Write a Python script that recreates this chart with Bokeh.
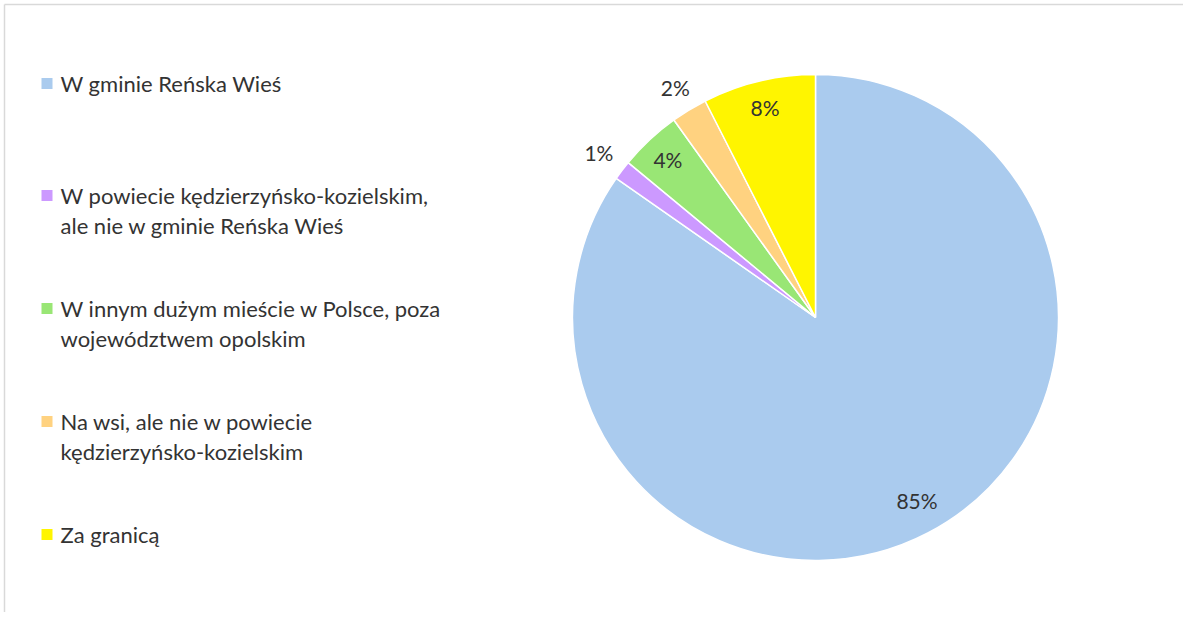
import numpy as np
from bokeh.plotting import figure
from bokeh.models import Range1d, ColumnDataSource
from bokeh.core.properties import value
from bokeh.embed import file_html
from bokeh.resources import INLINE

categories = [
    "W gminie Reńska Wieś",
    "W powiecie kędzierzyńsko-kozielskim,\nale nie w gminie Reńska Wieś",
    "W innym dużym mieście w Polsce, poza\nwojewództwem opolskim",
    "Na wsi, ale nie w powiecie\nkędzierzyńsko-kozielskim",
    "Za granicą",
]
shares = [84.7, 1.3, 4.1, 2.4, 7.5]
labels = ["85%", "1%", "4%", "2%", "8%"]
colors = ["#AACBEE", "#CC99FF", "#99E675", "#FFD280", "#FFF500"]

W, H = 1183, 612
FONT = "Lato"
TEXT_COLOR = "#333333"

p = figure(width=W, height=H, output_backend="svg", toolbar_location=None,
           x_range=Range1d(0, W), y_range=Range1d(0, H), min_border=0)
p.axis.visible = False
p.grid.visible = False
p.outline_line_color = None
p.background_fill_color = "white"
p.border_fill_color = "white"

def sy(screen_y):
    return H - screen_y

def sx(screen_x):
    return screen_x

# frame lines (left and top) of the chart area
p.segment(x0=[sx(4), sx(4)], y0=[0, sy(4)], x1=[sx(4), W], y1=[sy(4), sy(4)],
          line_color="#D9D9D9", line_width=1.5)

# pie
cx, cy, R = sx(815), sy(317), 243
frac = np.array(shares) / sum(shares)
cum = np.concatenate([[0], np.cumsum(frac)])
start = np.pi / 2 - 2 * np.pi * cum[1:]
end = np.pi / 2 - 2 * np.pi * cum[:-1]
src = ColumnDataSource(dict(start=start, end=end, color=colors))
p.wedge(x=cx, y=cy, radius=R, start_angle="start", end_angle="end",
        fill_color="color", line_color="white", line_width=1.5, source=src)

# data labels
mid = (cum[1:] + cum[:-1]) / 2
ang = np.pi / 2 - 2 * np.pi * mid
rfac = [0.85, 1.12, 0.89, 1.11, 0.89]
lx = [cx + R * f * np.cos(a) for f, a in zip(rfac, ang)]
ly = [cy + R * f * np.sin(a) for f, a in zip(rfac, ang)]
lx[0] += 6
p.text(x=lx, y=ly, text=labels, text_align="center", text_baseline="middle",
       text_font=value(FONT), text_font_size="21px", text_color=TEXT_COLOR)

# legend
entry_top = [83, 195, 308, 421, 534]
sq = 11
p.rect(x=[sx(46.5)] * 5, y=[sy(t) for t in entry_top], width=sq, height=sq,
       fill_color=colors, line_color=None)
for t, cat in zip(entry_top, categories):
    lines = cat.split("\n")
    p.text(x=[sx(60)] * len(lines), y=[sy(t + 30 * i) for i in range(len(lines))],
           text=lines, text_align="left", text_baseline="middle",
           text_font=value(FONT), text_font_size="22px", text_color=TEXT_COLOR)

open("out.html", "w").write(file_html(p, INLINE))
